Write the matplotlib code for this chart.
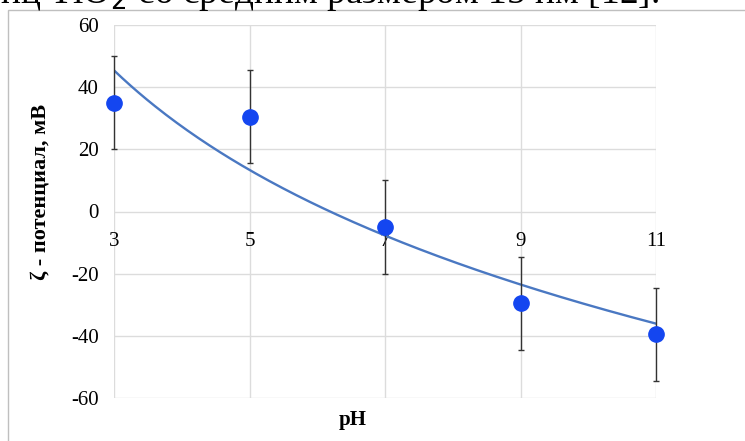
import numpy as np
import matplotlib.pyplot as plt
from matplotlib.patches import Rectangle

plt.rcParams['font.family'] = ['Liberation Serif', 'DejaVu Serif']

# data
ph = [3, 5, 7, 9, 11]
zeta = [35, 30.5, -5, -29.5, -39.5]
err = [15, 15, 15, 15, 15]
xticks = [3, 5, 7, 9, 11]
yticks = [-60, -40, -20, 0, 20, 40, 60]

# logarithmic trendline (like Excel)
a, b = np.polyfit(np.log(ph), zeta, 1)
xs = np.linspace(3, 11, 200)
ys = a * np.log(xs) + b

fig = plt.figure(figsize=(7.45, 4.41), dpi=100)

# chart frame and cut-off line of page text
fig.patches.append(Rectangle((8 / 745, -0.1), 1.1, 1 - 10 / 441 + 0.1,
                             transform=fig.transFigure, fill=False,
                             edgecolor='#bfbfbf', linewidth=1))
fig.text(0.0, 1 - 3 / 441, 'иц TiO$_2$ со средним размером 15 нм [12].',
         fontsize=27, va='baseline', ha='left')

ax = fig.add_axes([114 / 745, 1 - 398 / 441, (656 - 114) / 745, (398 - 25) / 441])

ax.plot(xs, ys, color='#4a78c2', linewidth=1.7, zorder=2)
eb = ax.errorbar(ph, zeta, yerr=err, fmt='o', color='#1446f0', markersize=11,
                 ecolor='#333333', elinewidth=1, capsize=2.5, capthick=1, zorder=3)
for artist in eb.get_children():
    artist.set_clip_on(False)

ax.set_xlim(3, 11)
ax.set_ylim(-60, 60)
ax.set_xticks(xticks)
ax.set_yticks(yticks)
ax.set_xticklabels([])
ax.set_yticklabels([str(v) for v in yticks], fontsize=15)
ax.tick_params(length=0, pad=11)
for s in ax.spines.values():
    s.set_visible(False)
ax.grid(True, color='#dcdcdc', linewidth=1)
ax.set_axisbelow(True)

# x labels sit under the zero line (axis crosses at 0)
for x in xticks:
    ax.text(x, -9.6, str(x), ha='center', va='center', fontsize=15, zorder=1)

fig.text(40 / 745, 1 - 192 / 441, 'ζ - потенциал, мВ', rotation=90,
         ha='center', va='center', fontsize=16, fontweight='bold')
fig.text(353 / 745, 1 - 420 / 441, 'pH', ha='center', va='center',
         fontsize=15, fontweight='bold')

fig.savefig('out.png', dpi=100)
